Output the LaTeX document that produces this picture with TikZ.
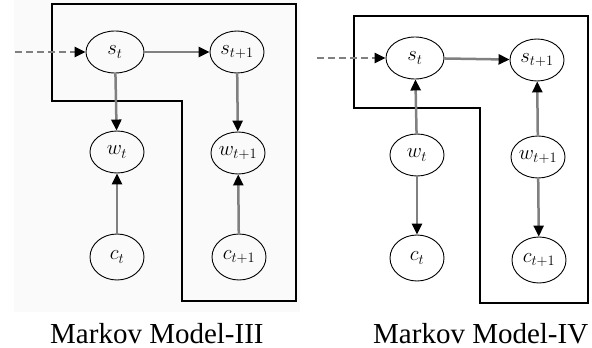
\documentclass[tikz,border=0pt]{standalone}
\usepackage{fontspec}
\setmainfont{Liberation Serif}
\usetikzlibrary{arrows.meta,shapes.geometric}
\begin{document}
\begin{tikzpicture}[x=1pt,y=-1pt,
  var/.style={ellipse,draw=black,line width=0.9pt,minimum width=54pt,minimum height=42pt,inner sep=0pt,font=\fontsize{20}{20}\selectfont},
  edge/.style={draw=black!50,line width=2.5pt,-{Triangle[length=11pt,width=10pt,color=black,fill=black]}},
  dedge/.style={edge,dash pattern=on 7pt off 4pt},
  frame/.style={draw=black,line width=1.2pt},
  caption/.style={font=\fontsize{29}{30}\selectfont,inner sep=0pt,anchor=base west}]
\useasboundingbox (0,0) rectangle (592,348);
\clip (0,0) rectangle (592,348);
\fill[black!2] (14,0) rectangle (300,312);
% Left: Markov Model-III
\draw[frame] (52,4) -- (296,4) -- (296,301) -- (182,301) -- (182,101) -- (52,101) -- cycle;
\node[var,minimum width=58pt] (sL) at (115,52) {$s_t$};
\node[var] (s1L) at (237,52) {$s_{t+1}$};
\node[var] (wL) at (117,152) {$w_t$};
\node[var] (w1L) at (238,153) {$w_{t+1}$};
\node[var,minimum height=46pt] (cL) at (117,257) {$c_t$};
\node[var,minimum height=46pt] (c1L) at (239,257) {$c_{t+1}$};
\coordinate (inL) at (15,52);
\draw[dedge] (inL) -- (sL);
\draw[edge] (sL) -- (s1L);
\draw[edge] (sL) -- (wL);
\draw[edge] (s1L) -- (w1L);
\draw[edge] (cL) -- (wL);
\draw[edge] (c1L) -- (w1L);
\node[caption] (capL) at (50,343) {Markov Model-III};
% Right: Markov Model-IV
\draw[frame] (354,16) -- (588,16) -- (588,303) -- (480,303) -- (480,108) -- (354,108) -- cycle;
\node[var,minimum width=58pt] (sR) at (415,58) {$s_t$};
\node[var] (s1R) at (537,60) {$s_{t+1}$};
\node[var] (wR) at (417,155) {$w_t$};
\node[var] (w1R) at (538,157) {$w_{t+1}$};
\node[var,minimum height=46pt] (cR) at (417,258) {$c_t$};
\node[var,minimum height=46pt] (c1R) at (539,260) {$c_{t+1}$};
\coordinate (inR) at (317,58);
\draw[dedge] (inR) -- (sR);
\draw[edge] (sR) -- (s1R);
\draw[edge] (wR) -- (sR);
\draw[edge] (w1R) -- (s1R);
\draw[edge] (wR) -- (cR);
\draw[edge] (w1R) -- (c1R);
\node[caption] (capR) at (373,343) {Markov Model-IV};
\end{tikzpicture}
\end{document}
